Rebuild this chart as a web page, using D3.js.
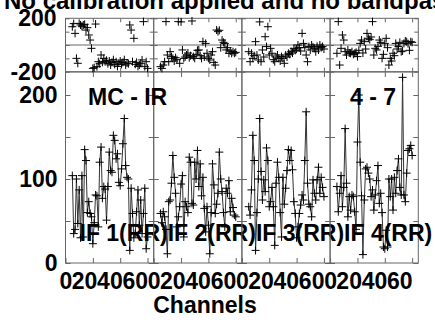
<!DOCTYPE html>
<html><head><meta charset="utf-8">
<script src="https://cdn.jsdelivr.net/npm/d3@7"></script>
<style>
body{margin:0;background:#fff}
svg{display:block}
text{font-family:"Liberation Sans",Arial,sans-serif;font-weight:bold;fill:#000}
</style>
</head><body><svg id="c" width="435" height="320"></svg>
<script>
const titleText = "No calibration applied and no bandpass applied";
const ifLabels = ["IF 1(RR)", "IF 2(RR)", "IF 3(RR)", "IF 4(RR)"];
const sourceLabel = "MC - IR";
const baselineLabel = "4 - 7";
const xLabel = "Channels";
const channels = [5,6,7,8,9,10,11,12,13,14,15,16,17,18,19,20,21,22,23,24,25,26,27,28,29,30,31,32,33,34,35,36,37,38,39,40,41,42,43,44,45,46,47,48,49,50,51,52,53,54,55,56,57,58,59,60];

const amp1 = [104,35,40,100,47,87,30,104,31,135, 122,60,73,59,55,23,48,81,80,43, 120,138,77,91,88,51,91,132,110,108, 152,146,124,130,96,92,112,142,172,116, 102,100,15,89,59,30,35,61,87,45, 75,35,59,89,17,31];
const amp2 = [59,48,61,55,40,11,73,75,95,128, 102,83,43,55,67,94,104,31,73,67, 60,126,120,71,69,120,100,134,91,118, 80,102,65,37,67,45,11,60,118,93, 59,70,83,132,100,85,60,43,89,83, 98,61,77,66,57,55];
const amp3 = [67,57,87,152,122,15,60,100,172,109, 75,99,85,137,122,67,73,90,67,21, 95,120,102,60,31,102,70,89,110,135, 122,134,111,73,59,30,43,59,69,81, 75,122,180,95,70,67,55,99,83,75, 99,114,83,102,90,79];
const amp4 = [91,61,83,104,67,90,160,95,55,79, 63,81,79,61,40,144,200,120,80,10, 75,112,114,107,100,79,87,63,81,98, 116,71,83,60,19,17,39,19,100,79, 100,63,102,83,110,124,90,81,221,81, 73,107,134,136,140,128];

const phase1 = [137,160,87,-100,-137,162,150,140,150,155, 112,130,75,37,-25,-175,-170,157,-162,-125, -140,-75,-130,-100,-125,-115,-140,-120,-150,-130, -110,-145,-125,-160,-135,-120,-145,-130,-110,-150, -135,-140,150,112,-125,50,-145,-130,-160,-150, -137,-112,175,-162,-125,-175];
const phase2 = [-162,-175,-150,-125,175,-75,-125,-50,-87,-100, -120,-95,-110,175,-137,173,-37,-100,-90,-75, -60,-95,-80,180,-87,-100,-70,-40,-37,-80, -100,25,-90,12,-62,-100,-112,-75,-50,-130, -150,112,100,110,-20,37,20,12,-37,-20, -62,-45,-62,-50,-62,-55];
const phase3 = [-50,-125,-62,-100,-80,25,-75,-112,173,-125, -37,-90,62,-12,137,-75,-25,-62,-110,-125, -90,-75,-100,-120,-87,-100,-137,-75,-90,-62, -70,-50,-60,-25,-40,-30,0,-20,-45,87, 12,-20,-75,-125,-12,-37,0,-15,-25,-50, -10,-37,0,-20,-12,-30];
const phase4 = [-62,175,-150,-25,75,37,-50,-75,-37,-60, -62,-50,-70,-62,-55,-87,-40,12,37,-60, 25,-30,87,50,40,60,175,-75,-25,-37, -10,37,20,-100,-70,12,50,-20,-150,-100, -120,-62,-80,12,-30,-12,20,-50,-45,12, 30,25,10,-40,25,20];

const xTicks = [0, 20, 40, 60];
const ampTicks = [0, 50, 100, 150, 200];
const ampLabelTicks = [0, 100, 200];
const phaseTicks = [-200, -100, 0, 100, 200];
const phaseLabelTicks = [-200, 200];

const amps = [amp1, amp2, amp3, amp4];
const phases = [phase1, phase2, phase3, phase4];

const svg = d3.select("#c");
const FS = 23;
const frameColor = "#666";
const panelW = 88.2, left0 = 65.5;
const phTop = 18.3, phBot = 71.7, ampTop = 72, ampBot = 263;
const xLabelShift = {20: 4, 40: 2, 60: 0};

const yPh = d3.scaleLinear().domain([-200, 200]).range([phBot, phTop]);
const yAmp = d3.scaleLinear().domain([0, 200]).range([ampBot, 95]);

const plus = "M-4,0H4M0,-4V4";

function styleAxis(g) {
  g.selectAll(".domain").remove();
  g.selectAll(".tick line").attr("stroke", frameColor).attr("stroke-width", 1);
  g.selectAll("text").style("font-size", FS + "px").style("font-family", '"Liberation Sans",Arial,sans-serif').style("font-weight", "bold").attr("fill", "#000");
}

for (let i = 0; i < 4; i++) {
  const L = left0 + panelW * i;
  const x = d3.scaleLinear().domain([0, 64.5]).range([L, L + panelW]);
  const g = svg.append("g");

  // frames
  g.append("rect").attr("x", L).attr("y", phTop).attr("width", panelW).attr("height", phBot - phTop)
    .attr("fill", "none").attr("stroke", frameColor);
  g.append("rect").attr("x", L).attr("y", ampTop).attr("width", panelW).attr("height", ampBot - ampTop)
    .attr("fill", "none").attr("stroke", frameColor);
  g.append("line").attr("x1", L).attr("x2", L + panelW).attr("y1", yPh(0)).attr("y2", yPh(0))
    .attr("stroke", frameColor);

  // amplitude ticks
  g.append("g").attr("transform", `translate(${L},0)`)
    .call(d3.axisLeft(yAmp).tickValues(ampTicks).tickSizeInner(-5).tickSizeOuter(0).tickPadding(8)
      .tickFormat(d => (i === 0 && ampLabelTicks.includes(d)) ? d : ""))
    .call(styleAxis);
  g.append("g").attr("transform", `translate(${L + panelW},0)`)
    .call(d3.axisRight(yAmp).tickValues(ampTicks).tickSizeInner(-5).tickSizeOuter(0).tickFormat(""))
    .call(styleAxis);
  // phase ticks
  g.append("g").attr("transform", `translate(${L},0)`)
    .call(d3.axisLeft(yPh).tickValues(phaseTicks).tickSizeInner(-4).tickSizeOuter(0).tickPadding(9)
      .tickFormat(d => (i === 0 && phaseLabelTicks.includes(d)) ? d : ""))
    .call(styleAxis);
  g.append("g").attr("transform", `translate(${L + panelW},0)`)
    .call(d3.axisRight(yPh).tickValues(phaseTicks).tickSizeInner(-4).tickSizeOuter(0).tickFormat(""))
    .call(styleAxis);
  // x ticks + labels
  const xa = g.append("g").attr("transform", `translate(0,${ampBot})`)
    .call(d3.axisBottom(x).tickValues(xTicks).tickSizeInner(-5).tickSizeOuter(0).tickPadding(10))
    .call(styleAxis);
  xa.selectAll(".tick text").filter(d => d !== 0)
    .attr("text-anchor", "end").attr("dx", d => xLabelShift[d] + "px");
  g.append("g").attr("transform", `translate(0,${ampTop})`)
    .call(d3.axisTop(x).tickValues(xTicks.slice(1)).tickSizeInner(-5).tickSizeOuter(0).tickFormat(""))
    .call(styleAxis);
  g.append("g").attr("transform", `translate(0,${phBot})`)
    .call(d3.axisBottom(x).tickValues(xTicks.slice(1)).tickSizeInner(-4).tickSizeOuter(0).tickFormat(""))
    .call(styleAxis);
  g.append("g").attr("transform", `translate(0,${phTop})`)
    .call(d3.axisTop(x).tickValues(xTicks.slice(1)).tickSizeInner(-4).tickSizeOuter(0).tickFormat(""))
    .call(styleAxis);

  // amplitude line + markers
  const ampData = channels.map((c, k) => [c, amps[i][k]]);
  g.append("path").datum(ampData)
    .attr("d", d3.line().x(d => x(d[0])).y(d => yAmp(d[1])))
    .attr("fill", "none").attr("stroke", "#333").attr("stroke-width", 1);
  g.selectAll(".am").data(ampData).enter().append("path")
    .attr("d", plus).attr("transform", d => `translate(${x(d[0])},${yAmp(d[1])})`)
    .attr("stroke", "#000").attr("stroke-width", 1).attr("fill", "none");

  // phase markers
  const phData = channels.map((c, k) => [c, phases[i][k]]);
  g.selectAll(".pm").data(phData).enter().append("path")
    .attr("d", plus).attr("transform", d => `translate(${x(d[0])},${yPh(d[1])})`)
    .attr("stroke", "#000").attr("stroke-width", 1).attr("fill", "none");

  // IF label
  svg.append("text").attr("x", L + 14).attr("y", 241).style("font-size", FS + "px").text(ifLabels[i]);
}

svg.append("text").attr("x", 88).attr("y", 105).style("font-size", FS + "px").text(sourceLabel);
svg.append("text").attr("x", 350).attr("y", 105).style("font-size", FS + "px").text(baselineLabel);
svg.append("text").attr("x", 205).attr("y", 313).attr("text-anchor", "middle").style("font-size", FS + "px").text(xLabel);
svg.append("text").attr("x", 4).attr("y", 8.5).style("font-size", "24px").text(titleText);
</script>
</body></html>
